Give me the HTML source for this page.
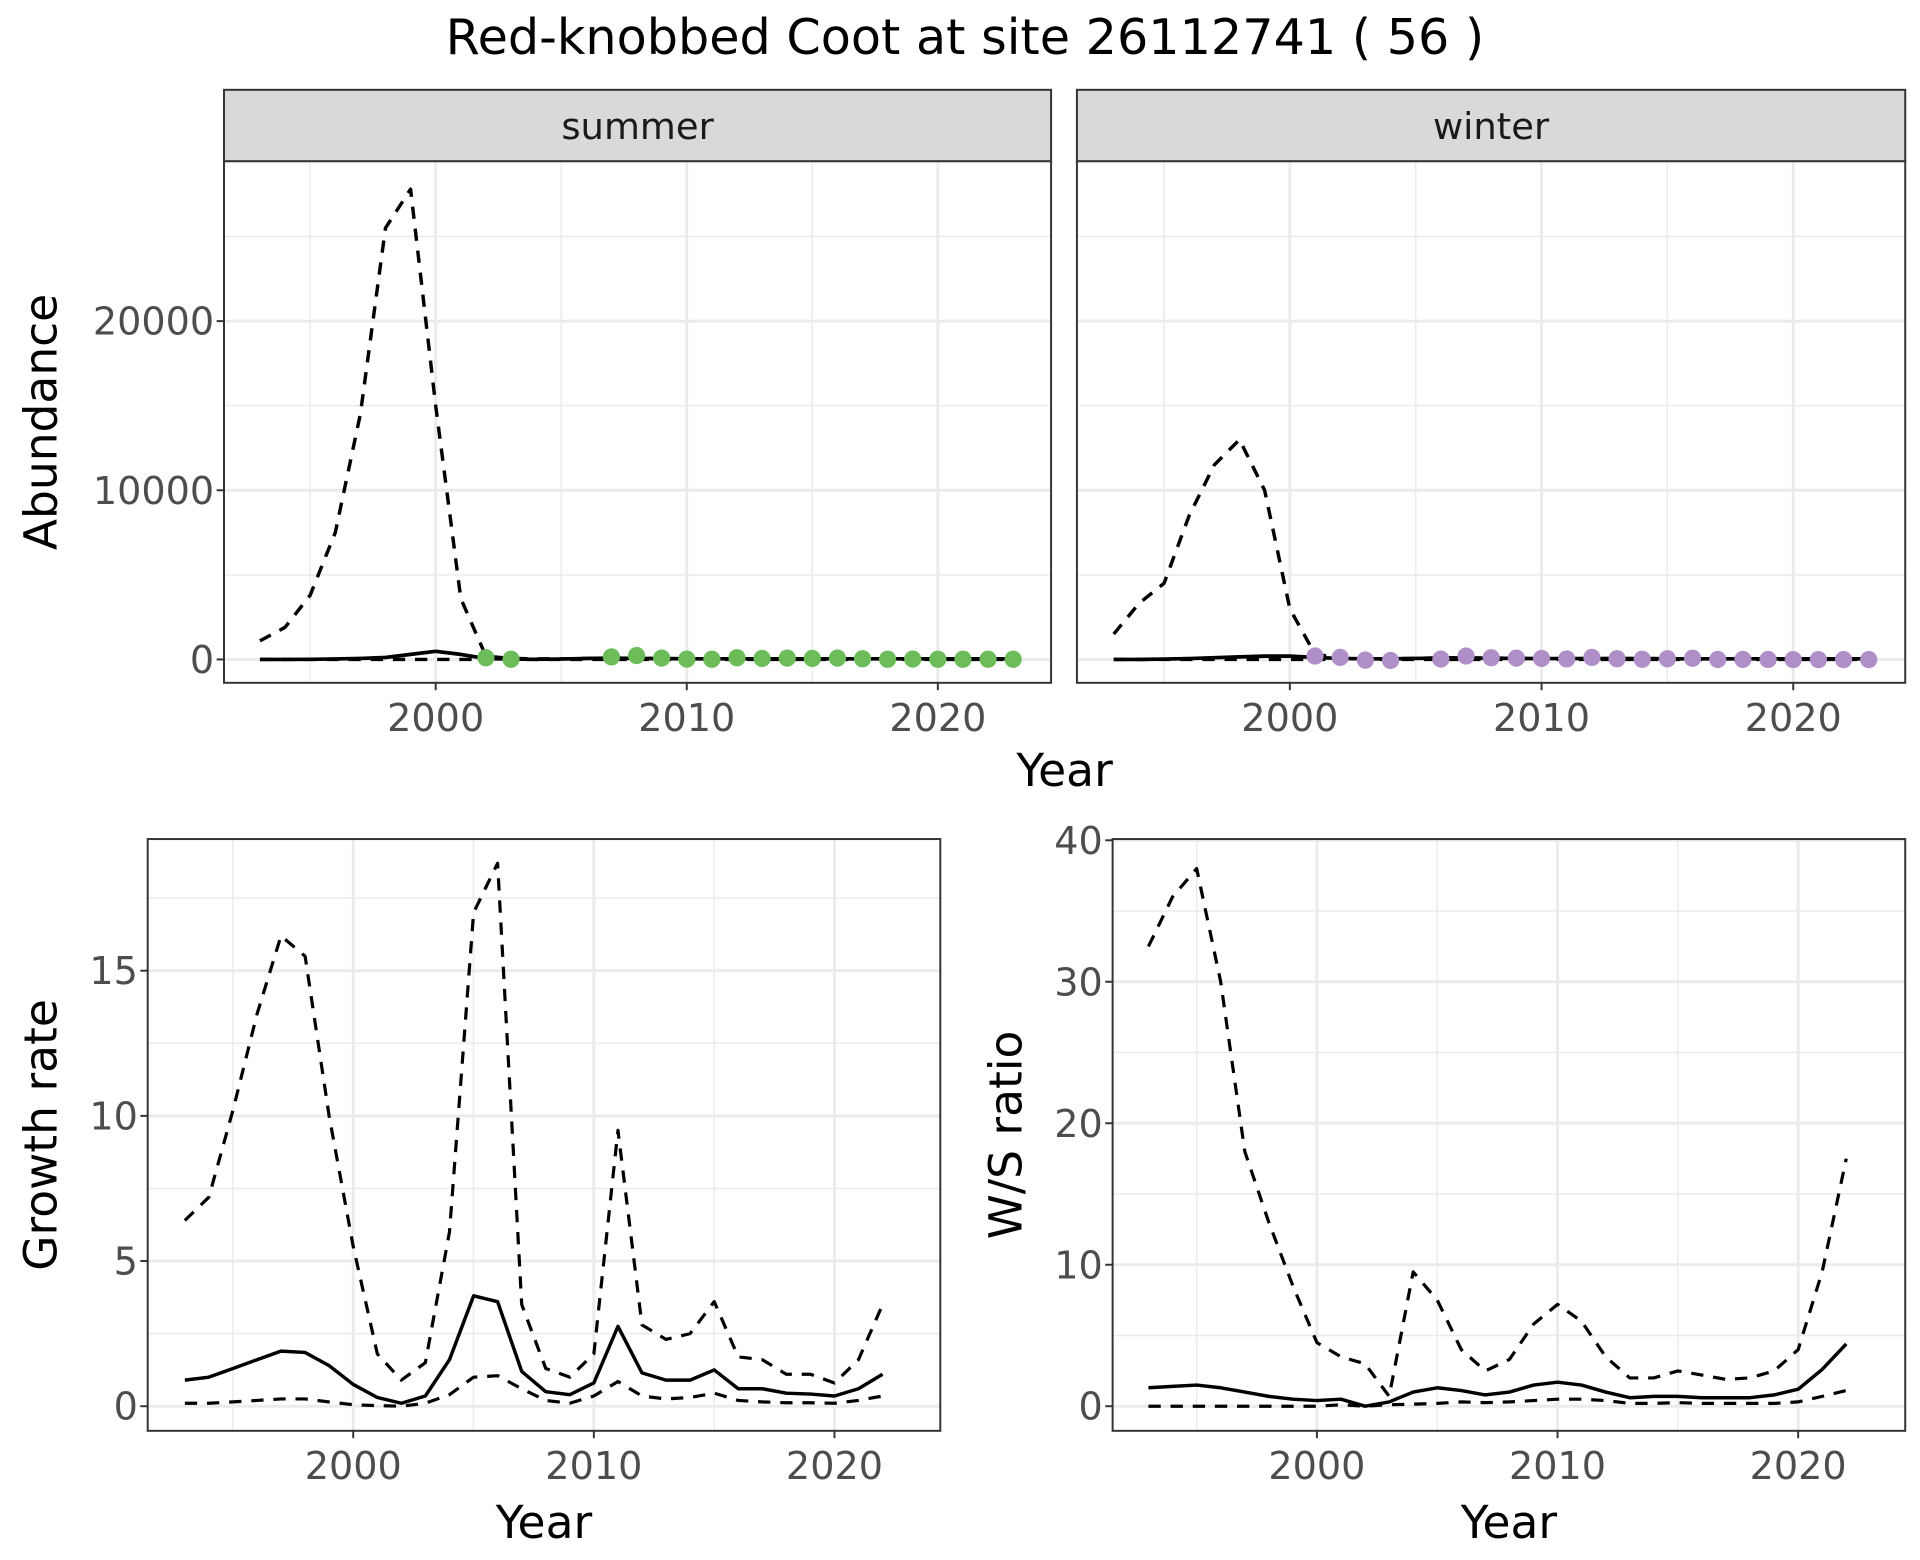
<!DOCTYPE html>
<html><head><meta charset="utf-8"><style>
html,body{margin:0;padding:0;background:#fff;}
svg{display:block;font-family:"DejaVu Sans","Liberation Sans",sans-serif;}
</style></head><body>
<svg id="chart" width="1920" height="1560" viewBox="0 0 1560 1268" preserveAspectRatio="none" xmlns="http://www.w3.org/2000/svg">
<text x="784" y="44" font-size="40" text-anchor="middle" fill="#000">Red-knobbed Coot at site 26112741 ( 56 )</text>
<g id="root"></g>
</svg>
<script>
const yearsAb = Array.from({length:31},(_,i)=>1993+i);
const sumUpper = [1100,1900,3800,7500,14500,25500,27800,15000,3600,200,60,40,40,60,80,60,50,40,40,40,40,40,40,40,40,40,40,40,40,40,40];
const sumFit =   [0,0,10,30,60,120,300,480,300,50,20,10,20,60,80,60,50,40,40,40,40,40,40,40,40,40,40,40,40,40,40];
const sumLower = [0,0,0,0,0,0,0,0,0,0,0,0,0,0,0,0,0,0,0,0,0,0,0,0,0,0,0,0,0,0,0];
const sumObsYears = [2002,2003,2007,2008,2009,2010,2011,2012,2013,2014,2015,2016,2017,2018,2019,2020,2021,2022,2023];
const sumObs = [100,10,150,230,80,20,10,100,60,80,60,80,40,10,20,10,10,10,10];
const winUpper = [1500,3300,4500,8500,11500,13000,10000,3000,300,100,50,40,60,100,90,80,70,60,50,50,50,50,40,40,40,40,40,40,40,40,40];
const winFit =   [0,0,20,50,100,150,200,200,120,60,40,40,60,90,80,70,60,50,50,50,50,50,40,40,40,40,40,40,40,40,40];
const winLower = [0,0,0,0,0,0,0,0,0,0,0,0,0,0,0,0,0,0,0,0,0,0,0,0,0,0,0,0,0,0,0];
const winObsYears = [2001,2002,2003,2004,2006,2007,2008,2009,2010,2011,2012,2013,2014,2015,2016,2017,2018,2019,2020,2021,2022,2023];
const winObs = [200,120,-40,-60,20,200,100,80,60,30,120,40,10,40,70,0,0,0,-10,-10,-10,-10];
const yearsR = Array.from({length:30},(_,i)=>1993+i);
const grUpper = [6.4,7.2,10.2,13.5,16.2,15.5,10,5.5,1.8,0.9,1.5,6,17,18.7,3.5,1.3,1.0,1.8,9.5,2.8,2.3,2.5,3.6,1.7,1.6,1.1,1.1,0.8,1.6,3.5];
const grFit = [0.9,1.0,1.3,1.6,1.9,1.85,1.4,0.75,0.3,0.1,0.35,1.6,3.8,3.6,1.2,0.5,0.4,0.8,2.75,1.15,0.9,0.9,1.25,0.6,0.6,0.45,0.42,0.35,0.6,1.1];
const grLower = [0.1,0.1,0.15,0.2,0.25,0.25,0.15,0.05,0.02,0.0,0.1,0.4,1.0,1.05,0.6,0.2,0.1,0.35,0.85,0.35,0.25,0.3,0.45,0.2,0.15,0.12,0.12,0.1,0.2,0.35];
const wsUpper = [32.5,36,38,30,18,13,8.5,4.5,3.5,3,0.7,9.5,7.5,4,2.5,3.3,5.8,7.2,6,3.5,2,2,2.5,2.2,1.9,2,2.5,4,9.5,17.5];
const wsFit = [1.3,1.4,1.5,1.3,1,0.7,0.5,0.4,0.5,0,0.3,1,1.3,1.1,0.8,1,1.5,1.7,1.5,1,0.6,0.7,0.7,0.6,0.6,0.6,0.8,1.2,2.6,4.4];
const wsLower = [0,0,0,0,0,0,0,0,0.1,0,0.1,0.15,0.2,0.3,0.25,0.3,0.4,0.5,0.5,0.4,0.2,0.2,0.25,0.2,0.2,0.2,0.2,0.3,0.7,1.1];
const xTicks = [2000,2010,2020];
const abTicks = [0,10000,20000];
const grTicks = [0,5,10,15];
const wsTicks = [0,10,20,30,40];

const NS="http://www.w3.org/2000/svg";
const root=document.getElementById('root');
function mk(tag,attrs,parent){const e=document.createElementNS(NS,tag);for(const k in attrs)e.setAttribute(k,attrs[k]);(parent||root).appendChild(e);return e;}
function lin(d0,d1,r0,r1){return v=>r0+(v-d0)*(r1-r0)/(d1-d0);}

function panel(o){
  const g=mk('g',{});
  
  
  const {x0,x1,y0,y1,sx,sy}=o;
  o.xMinor.forEach(v=>{const l=mk('line',{x1:sx(v),x2:sx(v),y1:y0,y2:y1,stroke:'#ebebeb','stroke-width':1.2},g);});
  o.yMinor.forEach(v=>{const l=mk('line',{x1:x0,x2:x1,y1:sy(v),y2:sy(v),stroke:'#ebebeb','stroke-width':1.2},g);});
  xTicks.forEach(v=>{const l=mk('line',{x1:sx(v),x2:sx(v),y1:y0,y2:y1,stroke:'#ebebeb','stroke-width':2.4},g);});
  o.yTicks.forEach(v=>{const l=mk('line',{x1:x0,x2:x1,y1:sy(v),y2:sy(v),stroke:'#ebebeb','stroke-width':2.4},g);});
  o.series.forEach(s=>{
    const d=s.xs.map((x,i)=>(i?'L':'M')+sx(x).toFixed(1)+','+sy(s.ys[i]).toFixed(1)).join('');
    const p=mk('path',{d,fill:'none',stroke:'#000','stroke-width':s.w,'stroke-dasharray':s.dash||'none','stroke-linejoin':'round'},g);
    
    
  });
  if(o.points){o.points.xs.forEach((x,i)=>{const c=mk('circle',{cx:sx(x),cy:sy(o.points.ys[i]),r:7,fill:o.points.color},g);});}
  const b=mk('rect',{x:x0,y:y0,width:x1-x0,height:y1-y0,fill:'none',stroke:'#333','stroke-width':1.6},g);
  
  if(o.xLabels){xTicks.forEach(v=>{mk('line',{x1:sx(v),x2:sx(v),y1:y1,y2:y1+6,stroke:'#333','stroke-width':1.6},g);const t=mk('text',{x:sx(v),y:y1+39,'font-size':31,'text-anchor':'middle',fill:'#4d4d4d'},g);t.textContent=v;});}
  if(o.yLabels){o.yTicks.forEach(v=>{mk('line',{x1:x0-6,x2:x0,y1:sy(v),y2:sy(v),stroke:'#333','stroke-width':1.6},g);const t=mk('text',{x:x0-8,y:sy(v)+11,'font-size':31,'text-anchor':'end',fill:'#4d4d4d'},g);t.textContent=v;});}
  if(o.strip){const r=mk('rect',{x:x0,y:73,width:x1-x0,height:58,fill:'#d9d9d9',stroke:'#333','stroke-width':1.6},g);const t=mk('text',{x:(x0+x1)/2,y:113,'font-size':30,'text-anchor':'middle',fill:'#1a1a1a'},g);t.textContent=o.strip;}
  if(o.yTitle){const t=mk('text',{x:0,y:0,'font-size':37,'text-anchor':'middle',fill:'#000',transform:`translate(${o.yTitleX},${(y0+y1)/2}) rotate(-90)`},g);t.textContent=o.yTitle;}
  if(o.xTitle){const t=mk('text',{x:(x0+x1)/2,y:1250,'font-size':37,'text-anchor':'middle',fill:'#000'},g);t.textContent=o.xTitle;}
}
const minorX=[1995,2005,2015];
let sx=lin(2000,2020,354,762), sy=lin(0,20000,536,261);
panel({name:'summer-panel',x0:182,x1:854,y0:131,y1:555,sx,sy,yTicks:abTicks,yMinor:[5000,15000,25000],xMinor:minorX,xLabels:true,yLabels:true,strip:'summer',yTitle:'Abundance',yTitleX:46,
 series:[{name:'upper-ci-line',xs:yearsAb,ys:sumUpper,w:2.8,dash:'10,8'},{name:'lower-ci-line',xs:yearsAb,ys:sumLower,w:2.8,dash:'10,8'},{name:'fitted-line',xs:yearsAb,ys:sumFit,w:3}],
 points:{xs:sumObsYears,ys:sumObs,color:'#6cbd5a'}});
sx=lin(2000,2020,1048,1457);
panel({name:'winter-panel',x0:875,x1:1548,y0:131,y1:555,sx,sy,yTicks:abTicks,yMinor:[5000,15000,25000],xMinor:minorX,xLabels:true,yLabels:false,strip:'winter',
 series:[{name:'upper-ci-line',xs:yearsAb,ys:winUpper,w:2.8,dash:'10,8'},{name:'lower-ci-line',xs:yearsAb,ys:winLower,w:2.8,dash:'10,8'},{name:'fitted-line',xs:yearsAb,ys:winFit,w:3}],
 points:{xs:winObsYears,ys:winObs,color:'#b08ec8'}});
{const t=mk('text',{x:865,y:639,'font-size':37,'text-anchor':'middle',fill:'#000'});t.textContent='Year';}
sx=lin(2000,2020,287,678); sy=lin(0,15,1143,789);
panel({name:'growth-rate-panel',x0:120,x1:764,y0:682,y1:1163,sx,sy,yTicks:grTicks,yMinor:[2.5,7.5,12.5,17.5],xMinor:minorX,xLabels:true,yLabels:true,yTitle:'Growth rate',yTitleX:46,xTitle:'Year',
 series:[{name:'upper-ci-line',xs:yearsR,ys:grUpper,w:2.6,dash:'10,8'},{name:'lower-ci-line',xs:yearsR,ys:grLower,w:2.6,dash:'10,8'},{name:'fitted-line',xs:yearsR,ys:grFit,w:2.8}]});
sx=lin(2000,2020,1070,1461); sy=lin(0,40,1143,683);
panel({name:'ws-ratio-panel',x0:904,x1:1548,y0:682,y1:1163,sx,sy,yTicks:wsTicks,yMinor:[5,15,25,35],xMinor:minorX,xLabels:true,yLabels:true,yTitle:'W/S ratio',yTitleX:830,xTitle:'Year',
 series:[{name:'upper-ci-line',xs:yearsR,ys:wsUpper,w:2.6,dash:'10,8'},{name:'lower-ci-line',xs:yearsR,ys:wsLower,w:2.6,dash:'10,8'},{name:'fitted-line',xs:yearsR,ys:wsFit,w:2.8}]});
</script>
</body></html>
